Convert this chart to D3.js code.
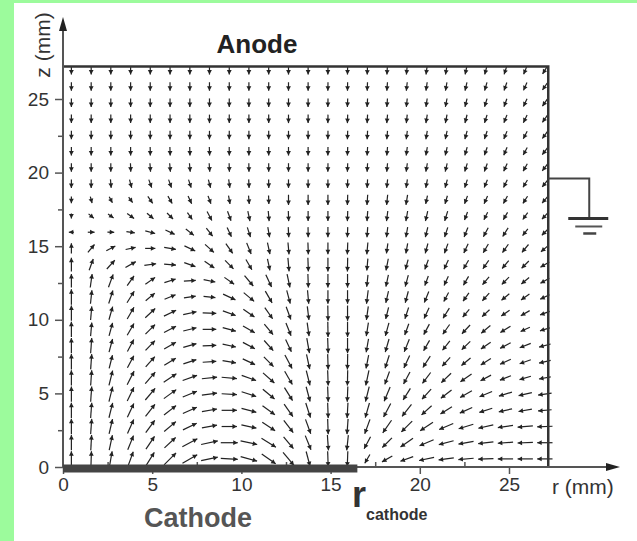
<!DOCTYPE html>
<html>
<head>
<meta charset="utf-8" />
<title>discharge field</title>
<script src="https://d3js.org/d3.v7.min.js"></script>
<style>
  body { margin: 0; background: #fff; }
  text { font-family: "Liberation Sans", Arial, sans-serif; }
</style>
</head>
<body>
<script>
// grid positions (mm)
const rGrid = [0.47, 1.58, 2.68, 3.79, 4.89, 6.00, 7.11, 8.21, 9.32, 10.42, 11.53, 12.64, 13.74,
  14.85, 15.95, 17.06, 18.17, 19.27, 20.38, 21.48, 22.59, 23.70, 24.80, 25.91, 27.01];
const zGrid = [0.55, 1.65, 2.75, 3.85, 4.95, 6.05, 7.15, 8.25, 9.35, 10.45, 11.55, 12.65, 13.75,
  14.85, 15.95, 17.05, 18.15, 19.25, 20.35, 21.45, 22.55, 23.65, 24.75, 25.85, 26.95];

// arrow direction in degrees (0 = +r, 90 = +z), one row per z, bottom row first
const angleRows = [
  [90, 88, 80, 70, 58, 45, 30, 12, -3, -15, -35, -50, -75, -88, -92, -120, -150, -160, -168, -172, -175, -178, -180, -180, -180],
  [90, 87, 78, 68, 56, 43, 28, 12, 0, -12, -32, -50, -68, -86, -96, -118, -135, -145, -157, -165, -170, -173, -176, -178, -180],
  [90, 86, 77, 66, 54, 40, 26, 10, 0, -12, -33, -52, -70, -88, -94, -110, -125, -135, -147, -157, -163, -167, -172, -175, -178],
  [90, 86, 76, 65, 52, 38, 24, 10, 0, -15, -36, -55, -72, -88, -93, -106, -118, -128, -138, -148, -156, -162, -167, -170, -175],
  [90, 86, 76, 64, 50, 36, 22, 8, -3, -18, -40, -58, -75, -88, -92, -104, -113, -122, -132, -142, -150, -157, -163, -167, -172],
  [90, 86, 76, 63, 49, 34, 20, 6, -5, -20, -42, -60, -76, -88, -91, -102, -110, -118, -127, -136, -145, -152, -158, -163, -170],
  [90, 86, 76, 62, 48, 32, 18, 4, -10, -25, -45, -62, -78, -88, -91, -101, -108, -115, -123, -132, -140, -148, -155, -160, -167],
  [90, 86, 75, 62, 46, 30, 16, 2, -12, -28, -48, -65, -80, -88, -90, -100, -106, -112, -120, -128, -136, -145, -152, -158, -165],
  [90, 85, 75, 60, 45, 28, 14, 0, -15, -30, -50, -68, -82, -89, -90, -99, -105, -110, -118, -125, -133, -140, -148, -155, -163],
  [90, 85, 74, 60, 43, 26, 12, -2, -20, -35, -55, -70, -83, -89, -90, -98, -104, -108, -115, -122, -130, -137, -145, -150, -160],
  [90, 84, 72, 58, 40, 22, 8, -6, -25, -40, -60, -75, -85, -90, -90, -97, -103, -105, -112, -118, -125, -132, -140, -145, -155],
  [90, 82, 70, 55, 35, 18, 4, -12, -35, -50, -65, -78, -88, -90, -90, -96, -102, -105, -110, -115, -120, -130, -135, -140, -150],
  [90, 70, 48, 30, 8, -5, -20, -35, -45, -60, -78, -85, -88, -90, -91, -95, -101, -105, -110, -115, -120, -125, -130, -135, -150],
  [90, 50, 28, 12, 0, -10, -25, -42, -55, -68, -78, -85, -88, -90, -92, -95, -98, -100, -105, -110, -115, -120, -125, -130, -140],
  [180, 0, -2, -8, -15, -25, -38, -52, -65, -72, -80, -87, -89, -90, -92, -94, -97, -100, -104, -108, -112, -118, -122, -128, -135],
  [-90, -40, -35, -35, -40, -45, -55, -62, -70, -78, -85, -88, -90, -90, -92, -94, -97, -100, -103, -107, -111, -116, -120, -125, -133],
  [-90, -75, -62, -55, -55, -60, -65, -70, -80, -85, -88, -90, -90, -90, -92, -94, -96, -99, -102, -106, -110, -114, -118, -123, -130],
  [-90, -90, -85, -75, -70, -70, -72, -75, -82, -87, -89, -90, -90, -90, -92, -93, -96, -98, -101, -105, -108, -112, -116, -121, -128],
  [-90, -90, -90, -88, -86, -85, -85, -86, -88, -89, -90, -90, -90, -91, -92, -93, -95, -97, -100, -103, -107, -110, -114, -119, -127],
  [-90, -90, -90, -90, -89, -88, -88, -88, -89, -90, -90, -90, -90, -91, -92, -93, -95, -97, -100, -103, -106, -109, -113, -118, -127],
  [-90, -90, -90, -90, -90, -90, -90, -90, -90, -90, -90, -90, -90, -91, -92, -93, -95, -97, -99, -102, -105, -108, -112, -117, -126],
  [-90, -90, -90, -90, -90, -90, -90, -90, -90, -90, -90, -90, -90, -91, -92, -93, -95, -96, -99, -101, -104, -107, -111, -116, -125],
  [-90, -90, -90, -90, -90, -90, -90, -90, -90, -90, -90, -90, -90, -91, -92, -93, -94, -96, -98, -101, -104, -107, -110, -115, -125],
  [-90, -90, -90, -90, -90, -90, -90, -90, -90, -90, -90, -90, -90, -91, -91, -92, -94, -96, -98, -100, -103, -106, -109, -114, -124],
  [-90, -90, -90, -90, -90, -90, -90, -90, -90, -90, -90, -90, -90, -91, -91, -92, -93, -95, -97, -99, -102, -105, -108, -112, -122]
];

// relative field strength (0-10), same layout
const magRows = [
  [9, 9, 9, 9, 9, 10, 10, 10, 10, 10, 10, 10, 9, 9, 9, 6, 7, 8, 9, 9, 9, 9, 9, 9, 9],
  [9, 9, 9, 9, 9, 9, 10, 10, 10, 10, 10, 9, 9, 9, 9, 8, 8, 9, 9, 9, 9, 9, 9, 9, 9],
  [9, 9, 9, 9, 9, 9, 9, 9, 9, 9, 9, 9, 9, 9, 9, 9, 9, 9, 9, 9, 9, 9, 9, 9, 9],
  [9, 9, 9, 9, 9, 9, 9, 9, 9, 9, 9, 9, 9, 9, 9, 9, 9, 9, 8, 8, 8, 8, 8, 8, 8],
  [9, 9, 9, 9, 9, 9, 9, 9, 9, 9, 9, 9, 9, 9, 9, 9, 9, 8, 8, 8, 8, 8, 8, 8, 8],
  [9, 9, 9, 9, 9, 9, 9, 9, 9, 9, 9, 9, 9, 9, 9, 9, 8, 8, 8, 8, 8, 7, 7, 7, 7],
  [9, 9, 8, 8, 8, 8, 8, 8, 8, 8, 8, 9, 9, 9, 9, 8, 8, 8, 8, 7, 7, 7, 7, 7, 7],
  [9, 9, 8, 8, 8, 8, 8, 8, 8, 8, 8, 8, 9, 9, 9, 8, 8, 8, 7, 7, 7, 7, 7, 7, 7],
  [9, 8, 8, 8, 8, 8, 8, 8, 8, 8, 8, 8, 8, 9, 9, 8, 8, 7, 7, 7, 7, 7, 7, 6, 6],
  [9, 8, 8, 8, 8, 8, 8, 8, 8, 8, 8, 8, 8, 9, 9, 8, 7, 7, 7, 7, 6, 6, 6, 6, 6],
  [9, 8, 8, 8, 7, 7, 7, 7, 8, 8, 8, 8, 8, 8, 8, 8, 7, 7, 7, 6, 6, 6, 6, 6, 6],
  [8, 8, 8, 7, 7, 7, 7, 7, 7, 8, 8, 8, 8, 8, 8, 7, 7, 7, 6, 6, 6, 6, 6, 6, 6],
  [8, 7, 7, 7, 7, 7, 7, 7, 7, 7, 7, 8, 8, 8, 8, 7, 7, 6, 6, 6, 6, 6, 6, 6, 6],
  [6, 6, 6, 6, 6, 7, 7, 7, 7, 7, 7, 7, 7, 7, 7, 7, 6, 6, 6, 6, 6, 6, 6, 6, 6],
  [3, 4, 4, 5, 6, 6, 6, 6, 6, 6, 6, 6, 6, 6, 6, 6, 6, 6, 6, 6, 6, 6, 6, 5, 5],
  [3, 4, 4, 5, 5, 5, 5, 6, 6, 6, 6, 6, 6, 6, 6, 6, 6, 6, 6, 6, 5, 5, 5, 5, 5],
  [4, 4, 4, 4, 5, 5, 5, 5, 5, 5, 5, 6, 6, 6, 6, 6, 6, 6, 5, 5, 5, 5, 5, 5, 5],
  [5, 5, 5, 5, 5, 5, 5, 5, 5, 5, 5, 5, 5, 5, 5, 5, 5, 5, 5, 5, 5, 5, 5, 5, 5],
  [5, 5, 5, 5, 5, 5, 5, 5, 5, 5, 5, 5, 5, 5, 5, 5, 5, 5, 5, 5, 5, 5, 5, 5, 5],
  [5, 5, 5, 5, 5, 5, 5, 5, 5, 5, 5, 5, 5, 5, 5, 5, 5, 5, 5, 5, 5, 5, 5, 5, 5],
  [5, 5, 5, 5, 5, 5, 5, 5, 5, 5, 5, 5, 5, 5, 5, 5, 5, 5, 5, 5, 5, 5, 5, 5, 5],
  [5, 5, 5, 5, 5, 5, 5, 5, 5, 5, 5, 5, 5, 5, 5, 5, 5, 5, 5, 5, 5, 5, 5, 5, 5],
  [5, 5, 5, 5, 5, 5, 5, 5, 5, 5, 5, 5, 5, 5, 5, 5, 5, 5, 5, 5, 5, 5, 5, 5, 5],
  [5, 5, 5, 5, 5, 5, 5, 5, 5, 5, 5, 5, 5, 5, 5, 5, 5, 5, 5, 5, 5, 5, 5, 5, 5],
  [5, 5, 5, 5, 5, 5, 5, 5, 5, 5, 5, 5, 5, 5, 5, 5, 5, 5, 5, 5, 5, 5, 5, 5, 5]
];

const xTicks = [0, 5, 10, 15, 20, 25];
const yTicks = [0, 5, 10, 15, 20, 25];
const minorTicks = [2.5, 7.5, 12.5, 17.5, 22.5];
const rCathode = 16.5;
const rWall = 27.2;
const zAnode = 27.2;
const zGround = 19.6;

const width = 637, height = 541;
const ink = "#333";

const svg = d3.select("body").append("svg")
  .attr("width", width)
  .attr("height", height);

svg.append("rect").attr("width", width).attr("height", height).attr("fill", "#fff");
// green frame of the figure
svg.append("rect").attr("x", 0).attr("y", 0).attr("width", 14).attr("height", height).attr("fill", "#9cfb9c");
svg.append("rect").attr("x", 0).attr("y", 0).attr("width", width).attr("height", 3).attr("fill", "#9cfb9c");

const x = d3.scaleLinear().domain([0, 25]).range([63, 509]);
const y = d3.scaleLinear().domain([0, 25]).range([467, 99]);
const len = d3.scaleLinear().domain([0, 10]).range([0, 17]);

// flatten grid
const cells = [];
angleRows.forEach((row, j) => {
  row.forEach((a, i) => {
    cells.push({ r: rGrid[i], z: zGrid[j], a: a, m: magRows[j][i] });
  });
});

function arrowGeom(d) {
  const cx = x(d.r), cy = y(d.z);
  const L = len(d.m);
  const th = d.a * Math.PI / 180;
  const ux = Math.cos(th), uy = -Math.sin(th);
  return {
    x1: cx - ux * L / 2, y1: cy - uy * L / 2,
    x2: cx + ux * L / 2, y2: cy + uy * L / 2,
    ux: ux, uy: uy
  };
}

const arrows = svg.append("g").selectAll("g")
  .data(cells)
  .enter()
  .append("g");

arrows.append("line")
  .attr("x1", d => arrowGeom(d).x1)
  .attr("y1", d => arrowGeom(d).y1)
  .attr("x2", d => arrowGeom(d).x2)
  .attr("y2", d => arrowGeom(d).y2)
  .attr("stroke", "#222")
  .attr("stroke-width", 1.2);

arrows.append("path")
  .attr("d", d => {
    const g = arrowGeom(d);
    const h = 4.5, w = 2.4;
    const bx = g.x2 - g.ux * h, by = g.y2 - g.uy * h;
    return `M${g.x2},${g.y2}L${bx - g.uy * w},${by + g.ux * w}L${bx + g.uy * w},${by - g.ux * w}Z`;
  })
  .attr("fill", "#222");

// box: anode on top, wall on the right
svg.append("path")
  .attr("d", `M${x(0)},${y(zAnode)}H${x(rWall)}V${y(0)}`)
  .attr("fill", "none")
  .attr("stroke", ink)
  .attr("stroke-width", 2.5);

// axes
const yAxis = svg.append("g")
  .attr("transform", `translate(${x(0)},0)`)
  .call(d3.axisLeft(y).tickValues(yTicks).tickSize(8).tickPadding(6));
yAxis.append("g").call(d3.axisLeft(y).tickValues(minorTicks).tickSize(5).tickFormat(""));

const xAxis = svg.append("g")
  .attr("transform", `translate(0,${y(0)})`)
  .call(d3.axisBottom(x).tickValues(xTicks).tickSize(7).tickPadding(4));
xAxis.append("g").call(d3.axisTop(x).tickValues(minorTicks).tickSize(5).tickFormat(""));

svg.selectAll(".domain").remove();
svg.selectAll(".tick line").attr("stroke", "#555").attr("stroke-width", 1.5);
svg.selectAll(".tick text")
  .attr("fill", ink)
  .style("font-size", "19px")
  .style("font-family", "'Liberation Sans', Arial, sans-serif");

// axis lines with arrow heads
svg.append("line")
  .attr("x1", x(0)).attr("y1", y(0)).attr("x2", x(0)).attr("y2", 26)
  .attr("stroke", "#555").attr("stroke-width", 2);
svg.append("path")
  .attr("d", `M${x(0)},17L${x(0) - 4},31L${x(0) + 4},31Z`)
  .attr("fill", "#222");
svg.append("line")
  .attr("x1", x(0)).attr("y1", y(0)).attr("x2", 612).attr("y2", y(0))
  .attr("stroke", "#555").attr("stroke-width", 2);
svg.append("path")
  .attr("d", `M620,${y(0)}L606,${y(0) - 4}L606,${y(0) + 4}Z`)
  .attr("fill", "#222");

// cathode plate
svg.append("rect")
  .attr("x", x(0)).attr("y", y(0) - 2.5)
  .attr("width", x(rCathode) - x(0)).attr("height", 8)
  .attr("fill", "#444");

// ground connection
const gy = y(zGround), gx0 = x(rWall);
svg.append("path")
  .attr("d", `M${gx0},${gy}H${gx0 + 41}V${gy + 40}`)
  .attr("fill", "none").attr("stroke", "#444").attr("stroke-width", 2);
svg.append("line").attr("x1", gx0 + 20).attr("x2", gx0 + 60).attr("y1", gy + 40).attr("y2", gy + 40)
  .attr("stroke", "#333").attr("stroke-width", 3);
svg.append("line").attr("x1", gx0 + 27).attr("x2", gx0 + 54).attr("y1", gy + 48).attr("y2", gy + 48)
  .attr("stroke", "#555").attr("stroke-width", 2);
svg.append("line").attr("x1", gx0 + 35).attr("x2", gx0 + 48).attr("y1", gy + 55).attr("y2", gy + 55)
  .attr("stroke", "#444").attr("stroke-width", 2.5);

// labels
svg.append("text")
  .attr("x", 257).attr("y", 53)
  .attr("text-anchor", "middle")
  .attr("font-weight", "bold")
  .attr("font-size", 26)
  .attr("fill", "#222")
  .text("Anode");

svg.append("text")
  .attr("x", 198).attr("y", 527)
  .attr("text-anchor", "middle")
  .attr("font-weight", "bold")
  .attr("font-size", 27)
  .attr("fill", "#555")
  .text("Cathode");

const rc = svg.append("text")
  .attr("x", 352).attr("y", 507)
  .attr("fill", "#333")
  .attr("font-weight", "bold");
rc.append("tspan").attr("font-size", 36).text("r");
rc.append("tspan").attr("font-size", 16).attr("dy", 13).text("cathode");

svg.append("text")
  .attr("x", 552).attr("y", 494)
  .attr("font-size", 21)
  .attr("fill", ink)
  .text("r (mm)");

svg.append("text")
  .attr("transform", "translate(50,45) rotate(-90)")
  .attr("text-anchor", "middle")
  .attr("font-size", 21)
  .attr("fill", ink)
  .text("z (mm)");
</script>
</body>
</html>
